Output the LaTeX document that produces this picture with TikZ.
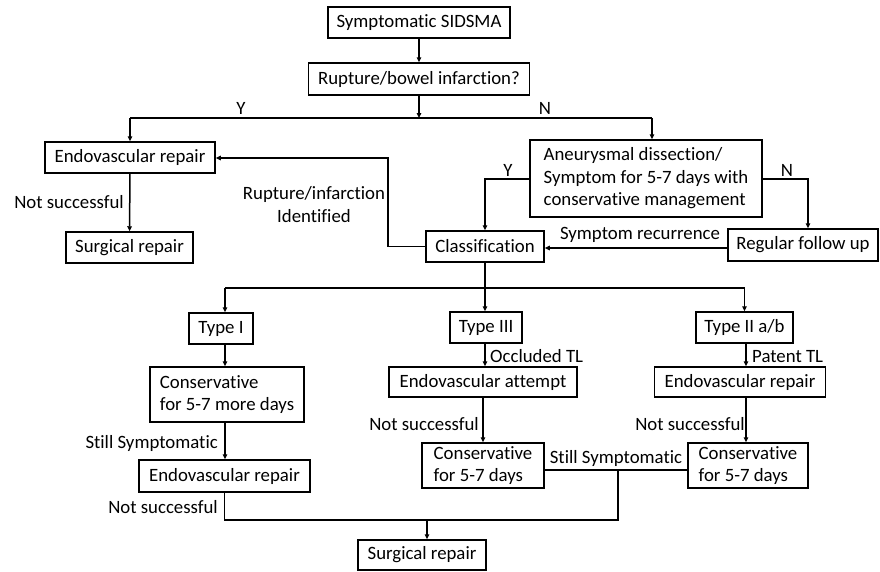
\documentclass[tikz,border=0pt]{standalone}
\usepackage{fontspec}
\setmainfont{Carlito}[Ligatures={NoCommon}]
\usetikzlibrary{arrows.meta}
\begin{document}
\begin{tikzpicture}[x=1pt,y=-1pt,
 box/.style={draw,line width=1.5pt,inner sep=0pt,font=\fontsize{18.8}{22.5}\selectfont},
 lab/.style={inner sep=0pt,font=\fontsize{18.8}{22.5}\selectfont},
 con/.style={line width=1.5pt},
 arr/.style={con,-{Triangle[length=5pt,width=4.5pt]}}]
\useasboundingbox (0,0) rectangle (880,571);
% boxes
\node[box,minimum width=182pt,minimum height=31pt] (sym) at (419,22.5) {Symptomatic SIDSMA};
\node[box,minimum width=221pt,minimum height=32pt] (rup) at (419,79) {Rupture/bowel infarction?};
\node[box,minimum width=170pt,minimum height=31pt] (endoA) at (130,157.5) {Endovascular repair};
\node[box,minimum width=127pt,minimum height=31pt] (surgA) at (129.5,247.5) {Surgical repair};
\node[box,minimum width=232pt,minimum height=77pt,align=left] (aneu) at (646,178.5) {Aneurysmal dissection/\\Symptom for 5-7 days with\\conservative management};
\node[box,minimum width=118pt,minimum height=31pt] (cls) at (485,246.5) {Classification};
\node[box,minimum width=150pt,minimum height=32pt] (fol) at (803,245) {Regular follow up};
\node[box,minimum width=64pt,minimum height=31pt] (tI) at (221,328.5) {Type I};
\node[box,minimum width=154pt,minimum height=55pt,align=left] (consI) at (227,394.5) {Conservative\\for 5-7 more days};
\node[box,minimum width=72pt,minimum height=31pt] (tIII) at (486,327.5) {Type III};
\node[box,minimum width=188pt,minimum height=30pt] (eatt) at (483,382) {Endovascular attempt};
\node[box,minimum width=97pt,minimum height=31pt] (tII) at (744.5,327.5) {Type II a/b};
\node[box,minimum width=171pt,minimum height=30pt] (endoR) at (740,382) {Endovascular repair};
\node[box,minimum width=122pt,minimum height=45pt,align=left] (consM) at (483,465.5) {Conservative\\for 5-7 days};
\node[box,minimum width=120pt,minimum height=45pt,align=left] (consR) at (748,465.5) {Conservative\\for 5-7 days};
\node[box,minimum width=171pt,minimum height=32pt] (endoL) at (224.5,476) {Endovascular repair};
\node[box,minimum width=128pt,minimum height=30pt] (surgB) at (422,555) {Surgical repair};
% junction coordinates
\coordinate (s1) at (419,118);
\coordinate (s1l) at (130,118);
\coordinate (s1r) at (652,118);
\coordinate (rb) at (388,158);
\coordinate (s2l) at (225,288);
\coordinate (s2r) at (744.5,288);
\coordinate (m1) at (224.5,520);
\coordinate (m2) at (618,520);
\coordinate (m3) at (618,470);
\coordinate (m4) at (427,520);
% connectors
\draw[arr] (sym) -- (rup);
\draw[arr] (rup) -- (s1);
\draw[con] (s1l) -- (s1r);
\draw[arr] (s1l) -- (endoA);
\draw[arr] (s1r) -- (s1r |- aneu.north);
\node[lab] (ly) at (241,108) {Y};
\node[lab] (ln) at (545,108) {N};
\draw[arr] (endoA) -- (surgA);
\node[lab,anchor=east] (ns1) at (124,202) {Not successful};
\draw[arr] (cls.west) -- (cls.west -| rb) -- (rb) -- (endoA.east |- rb);
\node[lab,align=center] (rupid) at (314,204.5) {Rupture/infarction\\Identified};
\draw[arr] (aneu.west |- 0,179) -- (485,179) -- (cls.north);
\node[lab] (ly2) at (508,170) {Y};
\draw[arr] (aneu.east |- 0,179) -- (808,179) -- (808,0 |- fol.north);
\node[lab] (ln2) at (787,170) {N};
\draw[arr] (fol.west |- 0,248) -- (cls.east |- 0,248);
\node[lab] (sr) at (640,235) {Symptom recurrence};
\draw[arr] (cls.south) -- (cls.south |- tIII.north);
\draw[con] (s2l) -- (s2r);
\draw[arr] (s2l) -- (s2l |- tI.north);
\draw[arr] (s2r) -- (tII);
\draw[arr] (tI.south -| s2l) -- (s2l |- consI.north);
\draw[arr] (consI.south -| s2l) -- (s2l |- endoL.north);
\node[lab,anchor=east] (ss1) at (218,443) {Still Symptomatic};
\draw[arr] (tIII.south -| cls.south) -- (cls.south |- eatt.north);
\node[lab,anchor=west] (occ) at (490,356) {Occluded TL};
\draw[arr] (tII.south -| 746,0) -- (746,0 |- endoR.north);
\node[lab,anchor=west] (pat) at (752,357) {Patent TL};
\draw[arr] (eatt) -- (consM);
\node[lab,anchor=east] (ns2) at (479,424) {Not successful};
\draw[arr] (endoR.south -| 746,0) -- (746,0 |- consR.north);
\node[lab,anchor=east] (ns3) at (745,424) {Not successful};
\draw[con] (consM.east |- m3) -- (consR.west |- m3);
\node[lab] (ss2) at (616,458) {Still Symptomatic};
\draw[con] (endoL.south) -- (m1) -- (m2) -- (m3);
\draw[arr] (m4) -- (m4 |- surgB.north);
\node[lab,anchor=east] (ns4) at (218,507) {Not successful};
\end{tikzpicture}
\end{document}
